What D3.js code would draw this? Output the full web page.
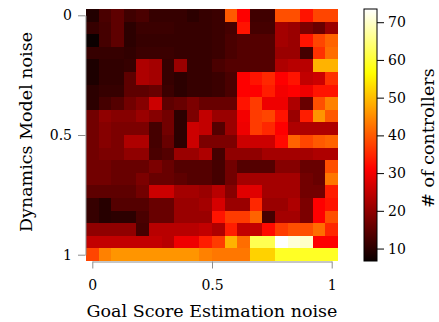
<!DOCTYPE html>
<html><head><meta charset="utf-8">
<script src="https://cdn.jsdelivr.net/npm/d3@7"></script>
<style>
body{margin:0;background:#fff}
svg{display:block}
text{font-family:"DejaVu Serif",serif;fill:#000}
</style>
</head><body>
<svg id="chart" width="439" height="322"></svg>
<script>
// ---- data ----
const goalNoise = [0, 0.053, 0.105, 0.158, 0.211, 0.263, 0.316, 0.368, 0.421, 0.474,
                   0.526, 0.579, 0.632, 0.684, 0.737, 0.789, 0.842, 0.895, 0.947, 1];
const dynNoise  = [0, 0.053, 0.105, 0.158, 0.211, 0.263, 0.316, 0.368, 0.421, 0.474,
                   0.526, 0.579, 0.632, 0.684, 0.737, 0.789, 0.842, 0.895, 0.947, 1];
// rows: dynamics noise (top = 0), columns: goal score estimation noise
const counts = [
  [9, 13, 15, 12, 13, 11, 11, 11, 10, 11, 11.5, 40, 31, 12, 12, 39, 39, 33, 38, 38],
  [11, 12.5, 15, 10, 11.5, 11.5, 11.5, 11, 11, 11, 11.5, 12.5, 33, 12.5, 12.5, 22, 21, 18, 16, 21],
  [6.7, 12.5, 15, 10, 11, 11, 11, 11, 11, 11, 11.5, 13, 14, 14, 14, 22, 21, 33, 38, 41],
  [11, 11, 11, 10.5, 11.5, 11.5, 11.5, 11, 11, 11, 11.5, 13, 14, 14, 14, 21, 21, 12.5, 36, 42],
  [8.5, 10.5, 10.5, 11, 23, 22, 11, 21, 11, 11, 13, 14, 14, 14, 14, 23, 24, 24, 49, 49],
  [8.5, 10.5, 10.5, 15, 23, 22, 11, 10, 11, 11, 11.5, 13, 31, 33, 35, 31, 33, 25, 26, 36],
  [10, 11, 11, 15, 15, 16, 11.5, 10, 11, 11, 11.5, 13, 31, 31, 34, 30, 31, 29.5, 33, 33],
  [10, 12.5, 14, 17, 19, 26, 15, 16, 18, 16, 16, 16, 33, 37, 29.5, 29.5, 23, 16, 39, 44],
  [17, 20, 19, 19, 21, 19, 17, 10, 18, 25, 21, 21, 30, 37, 38, 33, 21, 34, 46, 40],
  [17, 19, 18, 18, 18, 12.5, 17, 10, 26, 25, 14, 21, 29.5, 37, 35, 31, 23, 23, 23, 23],
  [17, 19, 18, 23, 23, 12.5, 16, 10, 26, 18, 18, 18, 26, 26, 26, 32, 41, 38, 40, 41],
  [17, 18, 18, 20, 20, 13, 14, 21, 21, 23, 12.5, 20, 20, 20, 22, 22, 22, 22, 23, 23],
  [17, 17, 16, 16, 16, 18, 16, 14, 14, 14, 12.5, 17, 14, 14, 14, 19, 19, 16, 16, 39],
  [17, 17, 16, 16, 18, 16, 16, 15, 14, 14, 12.5, 17, 22, 22, 22, 22, 22, 17, 16, 43],
  [15, 15, 15, 15, 17, 26, 26, 22, 22, 21, 24, 19, 28, 28, 22, 22, 22, 17, 17, 34],
  [11, 9.5, 14, 14, 14, 16, 16, 21, 21, 22, 27, 21, 21, 35, 21, 21, 23, 18, 31, 33],
  [11, 9.5, 10, 10, 13, 16, 16, 21, 21, 21, 33, 37, 37, 41, 12.5, 22, 22, 18, 31, 39],
  [20, 20, 20, 20, 12.5, 24, 24, 24, 24, 25, 23, 34, 25, 25, 32, 37, 39, 39, 42, 35],
  [25, 25, 25, 25, 25, 25, 24, 29.5, 29.5, 34, 37, 49, 42, 62, 62, 73.5, 71, 70, 31, 31],
  [38, 44, 46, 46, 46, 46, 46, 46, 46, 44, 43, 43, 43, 52, 52, 59, 59, 59, 59, 59]
];
const xTickValues = [0, 0.5, 1];
const yTickValues = [0, 0.5, 1];
const cbTickValues = [10, 20, 30, 40, 50, 60, 70];
const xLabel = "Goal Score Estimation noise";
const yLabel = "Dynamics Model noise";
const cbLabel = "# of controllers";

// ---- chart ----
(function () {
const svg = d3.select("#chart");
const pLeft = 86, pTop = 9, size = 252;

// matplotlib "hot" colormap
function hot(t) {
  const c = v => Math.max(0, Math.min(1, v));
  const r = t < 0.365079 ? 0.0416 + (1 - 0.0416) * t / 0.365079 : 1;
  const g = c((t - 0.365079) / (0.746032 - 0.365079));
  const b = c((t - 0.746032) / (1 - 0.746032));
  return d3.rgb(r * 255, g * 255, b * 255).toString();
}
const extent = d3.extent(counts.flat());
const color = d3.scaleSequential(hot).domain(extent);

const x = d3.scaleBand().domain(goalNoise).range([pLeft, pLeft + size]);
const y = d3.scaleBand().domain(dynNoise).range([pTop, pTop + size]);
const bw = x.bandwidth(), bh = y.bandwidth();
const xLin = d3.scaleLinear().domain([0, 1])
  .range([x(goalNoise[0]) + bw / 2, x(goalNoise[goalNoise.length - 1]) + bw / 2]);
const yLin = d3.scaleLinear().domain([0, 1])
  .range([y(dynNoise[0]) + bh / 2, y(dynNoise[dynNoise.length - 1]) + bh / 2]);

const cells = [];
counts.forEach((row, i) => row.forEach((v, j) => cells.push({gx: goalNoise[j], dy: dynNoise[i], v})));
svg.append("g").selectAll("rect").data(cells).join("rect")
  .attr("x", d => x(d.gx)).attr("y", d => y(d.dy))
  .attr("width", bw + 0.4).attr("height", bh + 0.4)
  .attr("fill", d => color(d.v))
  .attr("shape-rendering", "crispEdges");

const fmt = d => d === 0.5 ? "0.5" : String(d);
const axisColor = "#8c8c8c";

const gx = svg.append("g").attr("transform", `translate(0,${pTop + size + 0.5})`)
  .call(d3.axisBottom(xLin).tickValues(xTickValues).tickFormat(fmt)
    .tickSize(7).tickSizeOuter(0).tickPadding(12));
const gy = svg.append("g").attr("transform", `translate(${pLeft - 0.5},0)`)
  .call(d3.axisLeft(yLin).tickValues(yTickValues).tickFormat(fmt)
    .tickSize(7.5).tickSizeOuter(0).tickPadding(6));
[gx, gy].forEach(g => {
  g.select(".domain").attr("stroke", axisColor);
  g.selectAll(".tick line").attr("stroke", axisColor);
  g.selectAll(".tick text").style("font-family", '"DejaVu Serif", serif').style("font-size", "14px").attr("fill", "#000");
});

// axis labels
svg.append("text").attr("x", xLin(0.5)).attr("y", 317)
  .attr("text-anchor", "middle").style("font-size", "17.5px").text(xLabel);
svg.append("text").attr("transform", `translate(32,${pTop + size / 2 - 3}) rotate(-90)`)
  .attr("text-anchor", "middle").style("font-size", "17.5px").text(yLabel);

// colorbar
const cbX = 364, cbW = 13;
const cbScale = d3.scaleLinear().domain(extent).range([pTop + size, pTop]);
const defs = svg.append("defs");
const grad = defs.append("linearGradient").attr("id", "cbgrad")
  .attr("x1", 0).attr("y1", 1).attr("x2", 0).attr("y2", 0);
grad.selectAll("stop").data(d3.range(0, 1.0001, 0.01)).join("stop")
  .attr("offset", d => d).attr("stop-color", d => hot(d));
svg.append("rect").attr("x", cbX).attr("y", pTop).attr("width", cbW).attr("height", size)
  .attr("fill", "url(#cbgrad)").attr("stroke", "#000").attr("stroke-width", 1);
const gc = svg.append("g").attr("transform", `translate(${cbX + cbW},0)`)
  .call(d3.axisRight(cbScale).tickValues(cbTickValues).tickSize(7).tickSizeOuter(0).tickPadding(4));
gc.select(".domain").remove();
gc.selectAll(".tick line").attr("stroke", "#000");
gc.selectAll(".tick text").style("font-family", '"DejaVu Serif", serif').style("font-size", "14px").attr("fill", "#000");

svg.append("text").attr("transform", `translate(434,${pTop + size / 2 + 3}) rotate(-90)`)
  .attr("text-anchor", "middle").style("font-size", "17.5px").text(cbLabel);
})();
</script>
</body></html>
